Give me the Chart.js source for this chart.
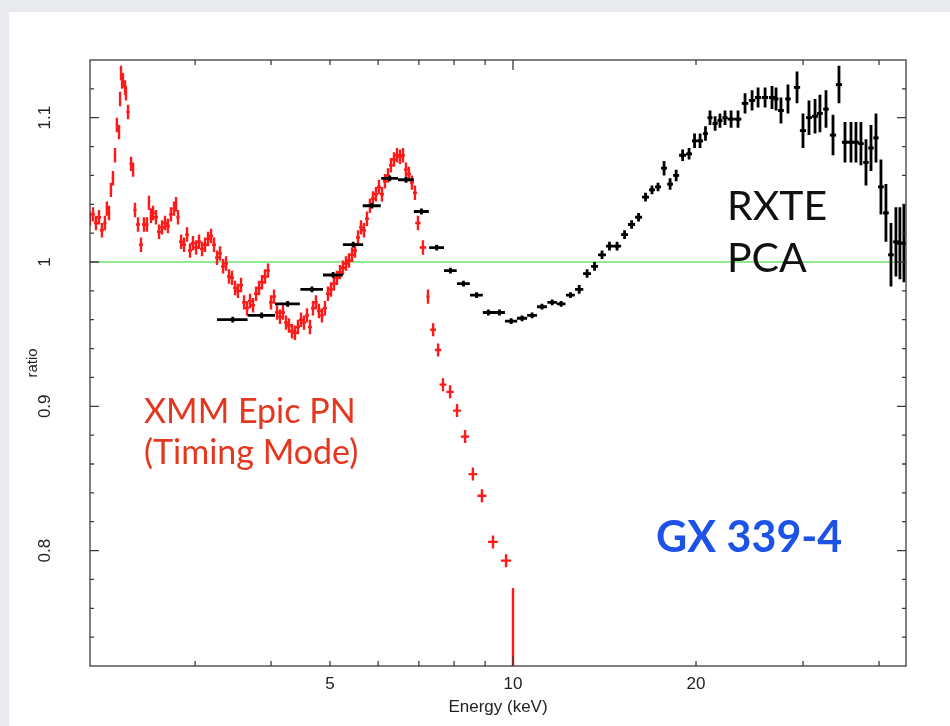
<!DOCTYPE html>
<html>
<head>
<meta charset="utf-8">
<title>GX 339-4 ratio</title>
<script src="https://cdn.jsdelivr.net/npm/chart.js@4/dist/chart.umd.min.js"></script>
<style>
  body { margin: 0; background: #e8eaed; width: 950px; height: 726px; overflow: hidden; }
  #folha { position: absolute; left: 9px; top: 12px; width: 941px; height: 714px; background: #fff; }
  #grafico { position: absolute; left: 0; top: 0; }
</style>
</head>
<body>
<div id="folha"></div>
<canvas id="grafico" width="950" height="726"></canvas>
<script>
// XMM Epic PN (timing mode): energia (keV) e razao dados/modelo
const xmmEnergia = [
  2.015, 2.038, 2.061, 2.085, 2.108, 2.132, 2.148, 2.165, 2.181, 2.198,
  2.215, 2.231, 2.249, 2.258, 2.266, 2.275, 2.283, 2.301, 2.309, 2.327,
  2.354, 2.372, 2.389, 2.417, 2.444, 2.472, 2.500, 2.519, 2.538, 2.558,
  2.587, 2.617, 2.647, 2.677, 2.707, 2.738, 2.770, 2.791, 2.812, 2.845,
  2.877, 2.910, 2.943, 2.976, 3.011, 3.045, 3.080, 3.115, 3.151, 3.187,
  3.223, 3.260, 3.297, 3.335, 3.373, 3.411, 3.450, 3.490, 3.529, 3.570,
  3.611, 3.652, 3.694, 3.736, 3.779, 3.822, 3.865, 3.909, 3.954, 3.999,
  4.045, 4.091, 4.138, 4.185, 4.233, 4.281, 4.330, 4.379, 4.429, 4.480,
  4.531, 4.583, 4.635, 4.688, 4.741, 4.795, 4.850, 4.906, 4.962, 5.019,
  5.076, 5.134, 5.193, 5.252, 5.312, 5.373, 5.435, 5.497, 5.560, 5.623,
  5.687, 5.752, 5.817, 5.884, 5.951, 6.019, 6.088, 6.157, 6.228, 6.299,
  6.371, 6.444, 6.517, 6.592, 6.667, 6.743, 6.820, 6.898, 6.977, 7.111,
  7.247
];
const xmmRazao = [
  1.030, 1.033, 1.027, 1.031, 1.022, 1.027, 1.037, 1.034, 1.050, 1.058,
  1.074, 1.095, 1.090, 1.113, 1.131, 1.125, 1.126, 1.121, 1.117, 1.104,
  1.068, 1.064, 1.036, 1.026, 1.012, 1.026, 1.026, 1.041, 1.032, 1.034,
  1.031, 1.021, 1.024, 1.027, 1.025, 1.033, 1.037, 1.040, 1.031, 1.014,
  1.012, 1.019, 1.008, 1.013, 1.010, 1.014, 1.009, 1.012, 1.016, 1.018,
  1.012, 1.003, 1.006, 0.997, 0.999, 0.990, 0.989, 0.982, 0.980, 0.984,
  0.972, 0.968, 0.973, 0.970, 0.978, 0.982, 0.986, 0.990, 0.994, 0.972,
  0.976, 0.965, 0.962, 0.965, 0.958, 0.956, 0.952, 0.951, 0.955, 0.960,
  0.958, 0.963, 0.955, 0.968, 0.972, 0.966, 0.963, 0.968, 0.978, 0.981,
  0.985, 0.989, 0.993, 0.996, 0.999, 1.001, 1.005, 1.008, 1.017, 1.024,
  1.022, 1.030, 1.039, 1.044, 1.047, 1.052, 1.047, 1.056, 1.060, 1.067,
  1.071, 1.074, 1.073, 1.074, 1.064, 1.061, 1.055, 1.048, 1.027, 1.010,
  0.976
];
const xmmErro = 0.005;

// pontos mais largos acima de 7 keV
const xmmCaudaEnergia = [7.39, 7.53, 7.67, 7.88, 8.09, 8.34, 8.59, 8.89, 9.27, 9.74, 10.0];
const xmmCaudaRazao = [0.953, 0.939, 0.915, 0.910, 0.897, 0.879, 0.853, 0.838, 0.806, 0.793, 0.700];
const xmmCaudaErro = [0.0045, 0.0045, 0.0045, 0.0045, 0.0045, 0.0045, 0.0045, 0.0045, 0.0045, 0.0045, 0.074];
const xmmCaudaLargura = [0.08, 0.09, 0.10, 0.11, 0.12, 0.13, 0.14, 0.15, 0.17, 0.19, 0];

// RXTE PCA: centro do canal, meia largura, razao e erro
const rxteEnergia = [
  3.46, 3.86, 4.26, 4.67, 5.06, 5.46, 5.86, 6.27, 6.67, 7.07,
  7.49, 7.89, 8.29, 8.71, 9.11, 9.50, 9.93, 10.35, 10.75, 11.16,
  11.60, 12.00, 12.43, 12.85, 13.24, 13.62, 14.01, 14.41, 14.83, 15.26,
  15.67, 16.09, 16.52, 16.93, 17.32, 17.72, 18.13, 18.55, 19.01, 19.48,
  19.89, 20.31, 20.73, 21.09, 21.50, 21.90, 22.32, 22.84, 23.45, 24.08,
  24.73, 25.30, 25.98, 26.67, 27.08, 27.59, 28.33, 29.32, 29.99, 30.68,
  31.39, 31.98, 32.72, 33.60, 34.37, 35.16, 35.97, 36.65, 37.35, 38.07,
  38.80, 39.54, 40.29, 41.06, 41.85, 42.64, 43.29, 43.95
];
const rxteLargura = [
  0.20, 0.20, 0.20, 0.20, 0.19, 0.21, 0.20, 0.20, 0.20, 0.20,
  0.21, 0.19, 0.20, 0.21, 0.19, 0.20, 0.23, 0.20, 0.20, 0.21,
  0.21, 0.20, 0.21, 0.20, 0.20, 0.18, 0.21, 0.19, 0.23, 0.20,
  0.21, 0.21, 0.22, 0.19, 0.20, 0.20, 0.20, 0.21, 0.25, 0.22,
  0.19, 0.23, 0.20, 0.20, 0.21, 0.21, 0.22, 0.30, 0.30, 0.30,
  0.30, 0.30, 0.30, 0.30, 0.25, 0.30, 0.30, 0.35, 0.35, 0.35,
  0.35, 0.35, 0.35, 0.40, 0.40, 0.40, 0.40, 0.40, 0.40, 0.40,
  0.40, 0.40, 0.45, 0.45, 0.45, 0.45, 0.40, 0.40
];
const rxteRazao = [
  0.960, 0.963, 0.971, 0.981, 0.991, 1.012, 1.039, 1.058, 1.057, 1.035,
  1.010, 0.994, 0.985, 0.977, 0.965, 0.965, 0.959, 0.961, 0.963, 0.969,
  0.972, 0.971, 0.977, 0.981, 0.992, 0.997, 1.005, 1.011, 1.011, 1.019,
  1.026, 1.031, 1.045, 1.050, 1.052, 1.065, 1.054, 1.060, 1.074, 1.075,
  1.084, 1.084, 1.089, 1.100, 1.096, 1.098, 1.100, 1.099, 1.099, 1.110,
  1.112, 1.114, 1.114, 1.114, 1.113, 1.105, 1.113, 1.121, 1.091, 1.100,
  1.101, 1.103, 1.106, 1.088, 1.123, 1.083, 1.083, 1.083, 1.082, 1.069,
  1.079, 1.086, 1.052, 1.034, 1.005, 1.014, 1.013, 1.013
];
const rxteErro = [
  0.002, 0.002, 0.002, 0.002, 0.002, 0.002, 0.002, 0.002, 0.002, 0.002,
  0.002, 0.002, 0.002, 0.002, 0.002, 0.002, 0.002, 0.002, 0.002, 0.002,
  0.002, 0.002, 0.002, 0.003, 0.003, 0.003, 0.003, 0.003, 0.003, 0.003,
  0.003, 0.003, 0.003, 0.003, 0.003, 0.005, 0.004, 0.004, 0.004, 0.004,
  0.005, 0.005, 0.005, 0.005, 0.005, 0.005, 0.005, 0.006, 0.006, 0.007,
  0.007, 0.007, 0.007, 0.008, 0.008, 0.009, 0.010, 0.011, 0.012, 0.012,
  0.012, 0.013, 0.013, 0.014, 0.013, 0.014, 0.014, 0.014, 0.015, 0.016,
  0.016, 0.017, 0.019, 0.020, 0.022, 0.024, 0.025, 0.027
];

// eixos
const marcasX = [3, 4, 5, 6, 7, 8, 9, 10, 20, 30, 40];
const rotulosX = [5, 10, 20];
const rotulosY = [0.8, 0.9, 1, 1.1];
const linhaUnidade = 1;

function montarXmm() {
  const pontos = xmmEnergia.map((e, i) => {
    const ant = xmmEnergia[i - 1] ?? e;
    const prox = xmmEnergia[i + 1] ?? e;
    const meia = (prox - ant) / 3;
    const r = xmmRazao[i];
    return { x: e, y: r, xMin: e - meia, xMax: e + meia, yMin: r - xmmErro, yMax: r + xmmErro };
  });
  xmmCaudaEnergia.forEach((e, i) => {
    const r = xmmCaudaRazao[i];
    pontos.push({
      x: e, y: r,
      xMin: e - xmmCaudaLargura[i], xMax: e + xmmCaudaLargura[i],
      yMin: r - xmmCaudaErro[i], yMax: r + xmmCaudaErro[i]
    });
  });
  return pontos;
}

function montarRxte() {
  return rxteEnergia.map((e, i) => ({
    x: e, y: rxteRazao[i],
    xMin: e - rxteLargura[i], xMax: e + rxteLargura[i],
    yMin: rxteRazao[i] - rxteErro[i], yMax: rxteRazao[i] + rxteErro[i]
  }));
}

// barras de erro em cruz, desenhadas pelas escalas do grafico
const barrasErro = {
  id: 'barrasErro',
  afterDatasetsDraw(chart) {
    const { ctx, chartArea: a, scales: { x, y } } = chart;
    ctx.save();
    ctx.beginPath();
    ctx.rect(a.left, a.top, a.right - a.left, a.bottom - a.top);
    ctx.clip();
    chart.data.datasets.forEach((ds) => {
      if (!ds.espessuraBarra) return;
      ctx.strokeStyle = ds.borderColor;
      ctx.lineWidth = ds.espessuraBarra;
      ctx.beginPath();
      ds.data.forEach((p) => {
        const px = x.getPixelForValue(p.x);
        const py = y.getPixelForValue(p.y);
        ctx.moveTo(x.getPixelForValue(p.xMin), py);
        ctx.lineTo(x.getPixelForValue(p.xMax), py);
        ctx.moveTo(px, y.getPixelForValue(p.yMin));
        ctx.lineTo(px, y.getPixelForValue(p.yMax));
      });
      ctx.stroke();
    });
    ctx.restore();
  }
};

// caixa, marcas para dentro, rotulos do eixo y girados e textos
const moldura = {
  id: 'moldura',
  afterDraw(chart) {
    const { ctx, chartArea: a, scales: { x, y } } = chart;
    ctx.save();
    ctx.strokeStyle = '#3c3c3c';
    ctx.lineWidth = 1.3;
    ctx.strokeRect(a.left, a.top, a.right - a.left, a.bottom - a.top);

    ctx.beginPath();
    x.ticks.forEach((t) => {
      const px = x.getPixelForValue(t.value);
      const lg = Math.log10(t.value);
      const tam = Math.abs(lg - Math.round(lg)) < 1e-9 ? 10 : 5;
      ctx.moveTo(px, a.bottom);
      ctx.lineTo(px, a.bottom - tam);
      ctx.moveTo(px, a.top);
      ctx.lineTo(px, a.top + tam);
    });
    y.ticks.forEach((t) => {
      const py = y.getPixelForValue(t.value);
      if (py < a.top + 2 || py > a.bottom - 2) return;
      const tam = Math.abs(t.value * 10 - Math.round(t.value * 10)) < 1e-6 ? 9 : 4;
      ctx.moveTo(a.left, py);
      ctx.lineTo(a.left + tam, py);
      ctx.moveTo(a.right, py);
      ctx.lineTo(a.right - tam, py);
    });
    ctx.stroke();

    ctx.fillStyle = '#222';
    ctx.font = '17px "Liberation Sans", Arial, sans-serif';
    ctx.textAlign = 'center';
    ctx.textBaseline = 'middle';
    rotulosY.forEach((v) => {
      ctx.save();
      ctx.translate(45, y.getPixelForValue(v));
      ctx.rotate(-Math.PI / 2);
      ctx.fillText(String(v), 0, 0);
      ctx.restore();
    });

    ctx.textAlign = 'left';
    ctx.textBaseline = 'alphabetic';
    ctx.fillStyle = '#e3371f';
    ctx.font = '34px Lato, "Open Sans", sans-serif';
    ctx.fillText('XMM Epic PN', 144, 423);
    ctx.fillText('(Timing Mode)', 144, 464);

    ctx.fillStyle = '#111';
    ctx.font = '41px Lato, "Open Sans", sans-serif';
    ctx.fillText('RXTE', 727, 220);
    ctx.fillText('PCA', 727, 272);

    ctx.fillStyle = '#1d52e6';
    ctx.font = 'bold 43px Lato, "Open Sans", sans-serif';
    ctx.fillText('GX 339-4', 656, 552);
    ctx.restore();
  }
};

const grafico = new Chart(document.getElementById('grafico'), {
  type: 'scatter',
  data: {
    datasets: [
      {
        type: 'line',
        label: 'unidade',
        data: [{ x: 2.015, y: linhaUnidade }, { x: 44.3, y: linhaUnidade }],
        borderColor: '#6ce26c',
        borderWidth: 1.5,
        pointRadius: 0,
        order: 3
      },
      {
        label: 'XMM Epic PN',
        data: montarXmm(),
        borderColor: '#ff1a1a',
        backgroundColor: '#ff1a1a',
        pointRadius: 0,
        espessuraBarra: 2.4,
        order: 2
      },
      {
        label: 'RXTE PCA',
        data: montarRxte(),
        borderColor: '#000',
        backgroundColor: '#000',
        pointRadius: 2,
        pointBorderWidth: 0,
        espessuraBarra: 2.8,
        order: 1
      }
    ]
  },
  options: {
    responsive: false,
    animation: false,
    devicePixelRatio: 1,
    layout: { padding: { top: 60, right: 44, left: 0, bottom: 0 } },
    plugins: { legend: { display: false }, tooltip: { enabled: false } },
    scales: {
      x: {
        type: 'logarithmic',
        min: 2.015,
        max: 44.3,
        afterBuildTicks: (s) => { s.ticks = marcasX.map((v) => ({ value: v })); },
        afterFit: (s) => { s.height = 60; },
        grid: { display: false, drawTicks: false },
        border: { display: false },
        ticks: {
          autoSkip: false,
          maxRotation: 0,
          padding: 8,
          color: '#222',
          font: { family: '"Liberation Sans", Arial, sans-serif', size: 17 },
          callback: (v) => (rotulosX.includes(v) ? String(v) : '')
        },
        title: {
          display: true,
          text: 'Energy (keV)',
          color: '#222',
          font: { family: '"Liberation Sans", Arial, sans-serif', size: 17 },
          padding: { top: 0, bottom: 8 }
        }
      },
      y: {
        min: 0.72,
        max: 1.14,
        afterFit: (s) => { s.width = 90; },
        grid: { display: false, drawTicks: false },
        border: { display: false },
        ticks: { display: false, stepSize: 0.02 },
        title: {
          display: true,
          text: 'ratio',
          color: '#222',
          font: { family: '"Liberation Sans", Arial, sans-serif', size: 15 },
          padding: { top: 24, bottom: 0 }
        }
      }
    }
  },
  plugins: [barrasErro, moldura]
});
</script>
</body>
</html>
